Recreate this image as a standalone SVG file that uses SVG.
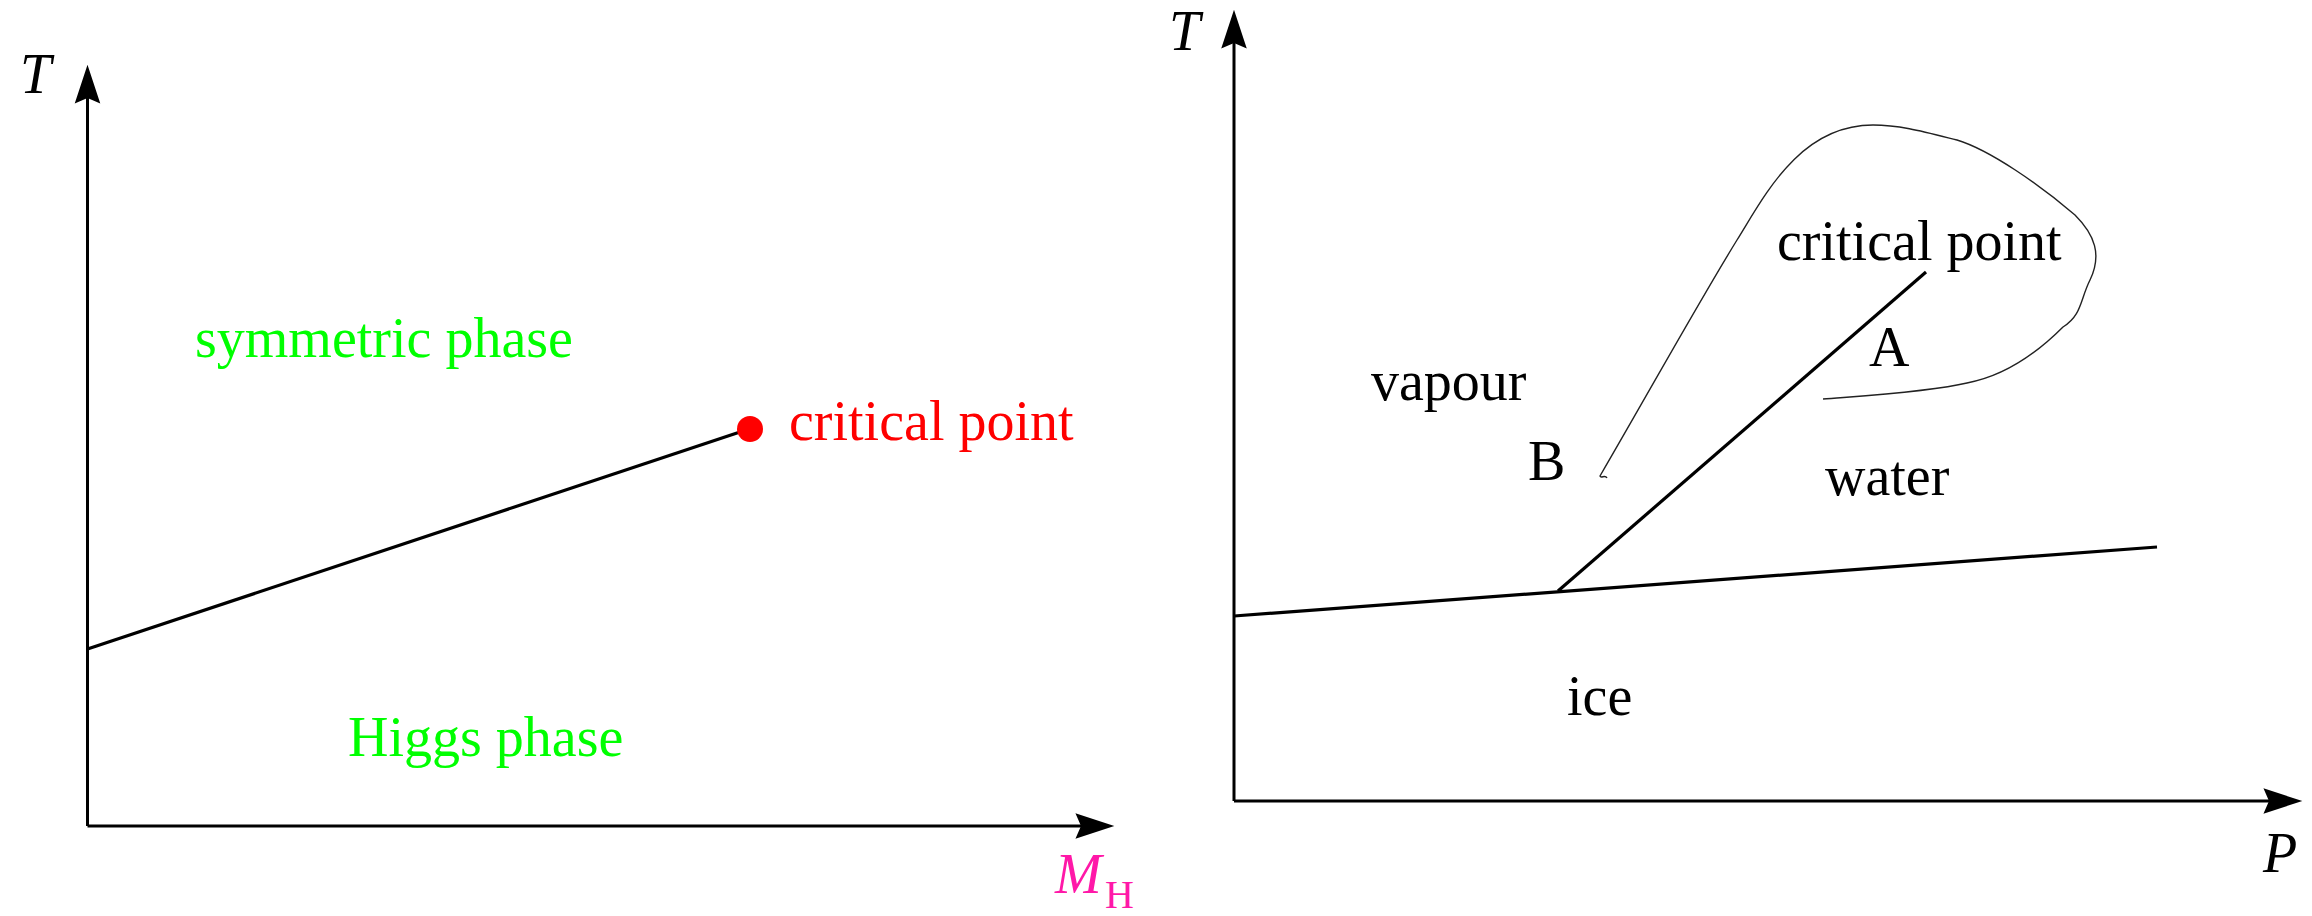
<svg xmlns="http://www.w3.org/2000/svg" width="2312" height="916" viewBox="0 0 2312 916">
<style>
text{font-family:"Liberation Serif","Times New Roman",serif;font-size:56px}
.it{font-style:italic}
.g{fill:#00ff00}
.k{fill:#000}
.ax{stroke:#000;stroke-width:3;fill:none}
.ln{stroke:#000;stroke-width:3.2;fill:none}
</style>
<defs>
<marker id="arr" markerUnits="userSpaceOnUse" markerWidth="40" markerHeight="30" viewBox="0 -12 36 24" refX="5" refY="0" orient="auto">
<path d="M0,-11.5 L35,0 L0,11.5 L5,0 z" fill="#000"/>
</marker>
</defs>
<rect width="2312" height="916" fill="#fff"/>
<g id="connectors">
<line class="ax" x1="87.5" y1="826" x2="87.5" y2="98" marker-end="url(#arr)"/>
<line class="ax" x1="87.5" y1="826" x2="1081" y2="826" marker-end="url(#arr)"/>
<line class="ax" x1="1234" y1="801" x2="1234" y2="43" marker-end="url(#arr)"/>
<line class="ax" x1="1234" y1="801" x2="2269" y2="801" marker-end="url(#arr)"/>
<line class="ln" x1="87.5" y1="649" x2="749" y2="429"/>
<line class="ln" x1="1234" y1="616" x2="2157" y2="547"/>
<line class="ln" x1="1558" y1="591" x2="1926" y2="272"/>
<path d="M1607,478 C1605,474 1601,479 1600,476 C1650,390 1700,300 1737,240 C1765,195 1800,125 1873,125 C1900,125 1925,132 1957,140 C1990,150 2040,185 2075,215 C2095,235 2102,255 2090,280 C2080,300 2082,315 2063,327 C2045,345 2010,375 1967,383 C1930,392 1860,396 1823,399" fill="none" stroke="#222" stroke-width="1.4"/>
</g>
<g id="left-labels">
<text class="it" x="20" y="93">T</text>
<g id="mh-label"><text class="it" x="1055" y="893" fill="#ff18a8">M</text><text x="1105" y="908" fill="#ff18a8" style="font-size:40px">H</text></g>
<text class="g" x="195" y="357">symmetric phase</text>
<text class="g" x="348" y="756">Higgs phase</text>
</g>
<g id="critical-point-left">
<circle cx="750" cy="429" r="13" fill="#ff0000"/>
<text x="789" y="440" fill="#ff0000">critical point</text>
</g>
<g id="right-labels">
<text class="it" x="1169" y="50">T</text>
<text class="it" x="2263" y="872">P</text>
<text x="1777" y="260">critical point</text>
<text x="1869" y="366">A</text>
<text x="1371" y="400">vapour</text>
<text x="1528" y="480">B</text>
<text x="1825" y="495">water</text>
<text x="1567" y="715">ice</text>
</g>
</svg>
